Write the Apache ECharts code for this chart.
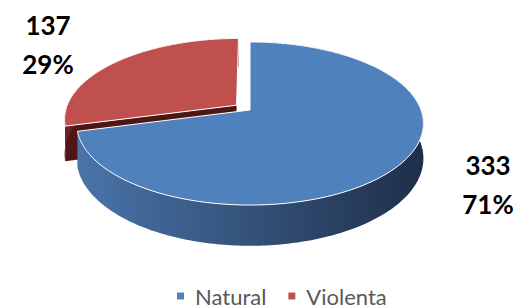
<!DOCTYPE html>
<html>
<head>
<meta charset="utf-8">
<script src="https://cdn.jsdelivr.net/npm/echarts@6/dist/echarts.min.js"></script>
<style>
  html, body { margin: 0; padding: 0; background: #fff; }
  #chart { width: 520px; height: 308px; }
</style>
</head>
<body>
<div id="chart"></div>
<script>
// 数据
const categories = ['Natural', 'Violenta'];
const values = [333, 137];
const colors = ['#4F81BD', '#C0504D'];
const sideColors = [['#4A74AA', '#1E2F48'], ['#6A2422', '#4E1716']];

// 3D 饼图布局（像素）
const CX = 250, CY = 110, RX = 171, RY = 79.3, PERSP = -0.1656, DEPTH = 34;
const explode = [0, 0.1];
const labelPos = [[488, 184], [48, 44]];

const total = values.reduce((a, b) => a + b, 0);
// 起止角度，从 12 点钟方向顺时针
const angles = [];
let acc = 0;
values.forEach(v => {
  const s = acc / total * 2 * Math.PI;
  acc += v;
  angles.push([s, acc / total * 2 * Math.PI]);
});

function proj(api, X, Z, h) {
  const w = 1 + PERSP * Z;
  return api.coord([CX + RX * X / w, CY + (RY * Z + DEPTH * h) / w]);
}

function drawSlice(i, api) {
  const [a0, a1] = angles[i];
  const mid = (a0 + a1) / 2;
  const ox = Math.sin(mid) * explode[i];
  const oz = -Math.cos(mid) * explode[i];
  const pt = (t, h) => proj(api, ox + Math.sin(t), oz - Math.cos(t), h);
  const ctr = h => proj(api, ox, oz, h);

  const n = Math.max(2, Math.ceil((a1 - a0) / (Math.PI / 180)));
  const arcTop = [], arcBot = [];
  for (let k = 0; k <= n; k++) {
    const t = a0 + (a1 - a0) * k / n;
    arcTop.push(pt(t, 0));
    arcBot.push(pt(t, 1));
  }

  const children = [];
  // 切面（只画朝向观察者的）
  [[a0, -1], [a1, 1]].forEach(([t, s]) => {
    if (s * Math.sin(t) > 0.01) {
      children.push({
        type: 'polygon',
        shape: { points: [ctr(0), pt(t, 0), pt(t, 1), ctr(1)] },
        style: { fill: sideColors[i][1] }
      });
    }
  });
  // 外侧面
  children.push({
    type: 'polygon',
    shape: { points: arcTop.concat(arcBot.slice().reverse()) },
    style: {
      fill: new echarts.graphic.LinearGradient(0, 0, 1, 0, [
        { offset: 0, color: sideColors[i][0] },
        { offset: 1, color: sideColors[i][1] }
      ])
    }
  });
  // 顶面
  children.push({
    type: 'polygon',
    shape: { points: [ctr(0)].concat(arcTop) },
    style: { fill: colors[i], stroke: '#fff', lineWidth: 1 }
  });
  // 标签
  const pct = Math.round(values[i] / total * 100);
  children.push({
    type: 'text',
    x: labelPos[i][0],
    y: labelPos[i][1],
    style: {
      text: values[i] + '\n' + pct + '%',
      fill: '#000',
      font: 'bold 26px Lato',
      align: 'center',
      verticalAlign: 'middle',
      lineHeight: 39
    }
  });
  return { type: 'group', children: children };
}

const chart = echarts.init(document.getElementById('chart'), null, { renderer: 'svg' });

// 后面的扇区先画
const drawOrder = [1, 0];

chart.setOption({
  animation: false,
  grid: { left: 0, right: 0, top: 0, bottom: 0 },
  xAxis: { type: 'value', min: 0, max: 520, show: false },
  yAxis: { type: 'value', min: 0, max: 308, inverse: true, show: false },
  legend: {
    data: categories,
    bottom: -4,
    left: 172,
    icon: 'rect',
    itemWidth: 7,
    itemHeight: 7,
    itemGap: 22,
    textStyle: { fontFamily: 'Lato', fontSize: 22, color: '#595959', padding: [0, 0, 0, 6] }
  },
  series: drawOrder.map(i => ({
    type: 'custom',
    name: categories[i],
    coordinateSystem: 'cartesian2d',
    clip: false,
    silent: true,
    itemStyle: { color: colors[i] },
    data: [[i, values[i]]],
    renderItem: (params, api) => drawSlice(i, api)
  }))
});
</script>
</body>
</html>
